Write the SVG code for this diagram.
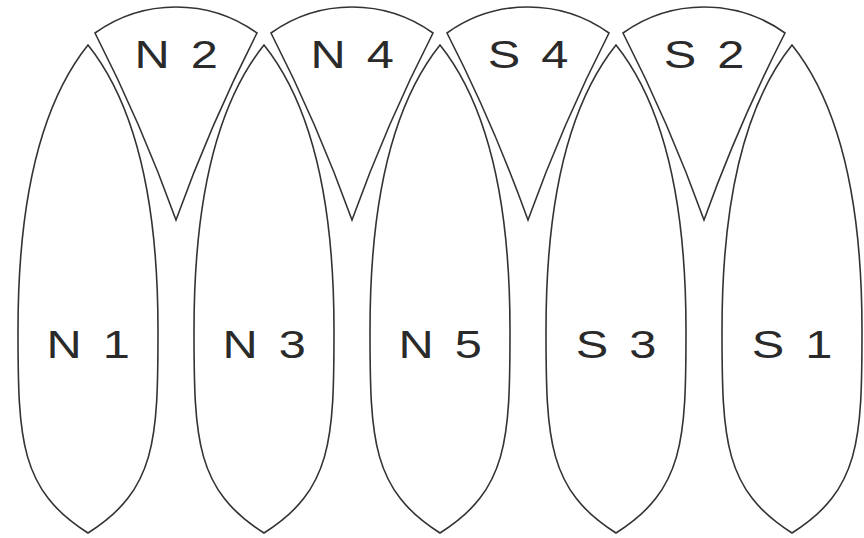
<svg xmlns="http://www.w3.org/2000/svg" xmlns:xlink="http://www.w3.org/1999/xlink" width="864" height="538" viewBox="0 0 864 538">
  <style>
    .shape { fill: #ffffff; stroke: #333333; stroke-width: 1.6; stroke-linejoin: miter; stroke-miterlimit: 20; }
    .lbl { font-family: "Liberation Sans", Arial, sans-serif; font-size: 39px; fill: #2a2a2a; text-anchor: middle; letter-spacing: 3px; }
  </style>
  <defs>
    <path id="leaf" class="shape" d="M 0 45 C -44 100 -70 190 -70 330 C -70 440 -68 490 0 533 C 68 490 70 440 70 330 C 70 190 44 100 0 45 Z"/>
    <path id="wedge" class="shape" d="M -81 33 A 139 139 0 0 1 81 33 Q 34.5 124 0 220 Q -34.5 124 -81 33 Z"/>
  </defs>
  <rect width="864" height="538" fill="#ffffff"/>

  <g id="N1" transform="translate(88,0)">
    <use xlink:href="#leaf"/>
    <text class="lbl" transform="translate(2,358) scale(1.25,1)" xml:space="preserve">N 1</text>
  </g>
  <g id="N3" transform="translate(264,0)">
    <use xlink:href="#leaf"/>
    <text class="lbl" transform="translate(2,358) scale(1.25,1)" xml:space="preserve">N 3</text>
  </g>
  <g id="N5" transform="translate(440,0)">
    <use xlink:href="#leaf"/>
    <text class="lbl" transform="translate(2,358) scale(1.25,1)" xml:space="preserve">N 5</text>
  </g>
  <g id="S3" transform="translate(616,0)">
    <use xlink:href="#leaf"/>
    <text class="lbl" transform="translate(2,358) scale(1.25,1)" xml:space="preserve">S 3</text>
  </g>
  <g id="S1" transform="translate(792,0)">
    <use xlink:href="#leaf"/>
    <text class="lbl" transform="translate(2,358) scale(1.25,1)" xml:space="preserve">S 1</text>
  </g>

  <g id="N2" transform="translate(176,0)">
    <use xlink:href="#wedge"/>
    <text class="lbl" transform="translate(2,68) scale(1.25,1)" xml:space="preserve">N 2</text>
  </g>
  <g id="N4" transform="translate(352,0)">
    <use xlink:href="#wedge"/>
    <text class="lbl" transform="translate(2,68) scale(1.25,1)" xml:space="preserve">N 4</text>
  </g>
  <g id="S4" transform="translate(528,0)">
    <use xlink:href="#wedge"/>
    <text class="lbl" transform="translate(2,68) scale(1.25,1)" xml:space="preserve">S 4</text>
  </g>
  <g id="S2" transform="translate(704,0)">
    <use xlink:href="#wedge"/>
    <text class="lbl" transform="translate(2,68) scale(1.25,1)" xml:space="preserve">S 2</text>
  </g>
</svg>
